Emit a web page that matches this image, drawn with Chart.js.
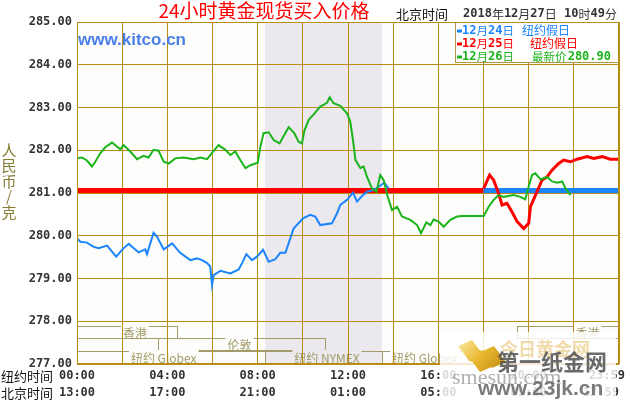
<!DOCTYPE html>
<html>
<head>
<meta charset="utf-8">
<script src="https://cdn.jsdelivr.net/npm/chart.js@4.4.1/dist/chart.umd.min.js"></script>
<style>
  html, body { margin: 0; padding: 0; background: #ffffff; }
  #wrap { width: 630px; height: 400px; }
</style>
</head>
<body>
<div id="wrap"><canvas id="gold" width="630" height="400"></canvas></div>
<script>
// NY time in hours (0-24), price in 人民币/克
const blueTimes = [0,0.15,0.44,0.74,0.96,1.33,1.55,1.74,1.99,2.29,2.73,3.02,3.10,3.39,3.54,3.84,4.21,4.57,5.02,5.31,5.54,5.76,5.90,5.98,6.05,6.35,6.79,7.16,7.31,7.50,7.75,7.97,8.24,8.49,8.78,9.00,9.23,9.59,10.01,10.33,10.55,10.77,11.29,11.51,11.66,11.96,12.22,12.40,12.62,12.84,13.14,13.61,13.80];
const blueValues = [279.94,279.86,279.84,279.74,279.71,279.77,279.63,279.51,279.67,279.81,279.61,279.68,279.57,280.07,279.98,279.68,279.82,279.60,279.43,279.47,279.43,279.36,279.28,278.85,279.08,279.18,279.12,279.21,279.36,279.57,279.43,279.51,279.67,279.39,279.45,279.60,279.60,280.17,280.41,280.49,280.45,280.25,280.29,280.52,280.72,280.84,281.01,280.80,280.93,281.03,281.07,281.24,281.11];

const greenTimes = [0,0.22,0.44,0.66,0.81,1.03,1.25,1.55,1.92,2.06,2.36,2.66,2.95,3.17,3.39,3.61,3.84,4.06,4.35,4.72,5.16,5.46,5.76,5.98,6.27,6.57,6.79,7.01,7.23,7.46,7.68,8.00,8.12,8.26,8.49,8.71,8.97,9.37,9.62,9.81,9.96,10.07,10.26,10.48,10.77,11.07,11.19,11.36,11.66,11.96,12.10,12.22,12.33,12.55,12.69,12.84,13.06,13.26,13.43,13.58,13.76,13.95,14.17,14.39,14.76,15.06,15.23,15.47,15.65,15.79,16.01,16.24,16.53,16.83,17.05,18.01,18.23,18.45,18.67,18.89,19.34,19.63,19.85,20.00,20.15,20.30,20.52,20.82,21.04,21.26,21.48,21.63,21.85];
const greenValues = [281.81,281.83,281.76,281.62,281.73,281.93,282.07,282.18,282.02,282.12,281.97,281.79,281.87,281.83,282.01,281.99,281.73,281.69,281.81,281.83,281.79,281.83,281.79,281.94,282.12,282.01,281.89,281.97,281.77,281.58,281.65,281.71,282.08,282.40,282.42,282.24,282.16,282.54,282.40,282.20,282.16,282.46,282.71,282.84,283.02,283.11,283.24,283.10,283.04,282.86,282.67,282.24,281.77,281.58,281.62,281.38,281.11,281.03,281.42,281.30,280.91,280.60,280.68,280.45,280.37,280.25,280.06,280.31,280.25,280.38,280.33,280.21,280.37,280.45,280.46,280.46,280.68,280.84,280.95,280.91,280.95,280.91,280.85,281.15,281.42,281.46,281.32,281.37,281.27,281.24,281.27,281.11,280.95];

const redTimes = [18.01,18.27,18.45,18.67,18.82,19.04,19.26,19.49,19.78,20.00,20.08,20.37,20.59,20.82,21.04,21.33,21.55,21.85,22.14,22.59,22.88,23.25,23.62,23.99];
const redValues = [281.11,281.42,281.30,280.99,280.72,280.76,280.56,280.33,280.17,280.29,280.68,281.03,281.30,281.38,281.54,281.69,281.77,281.73,281.79,281.85,281.81,281.85,281.79,281.79];

// 纽约假日: flat lines at the holiday price
const holidayPrice = 281.06;
const redHolidayTimes = [0, 18];
const blueHolidayTimes = [18, 24];

const nyTickHours = [0, 4, 8, 12, 16, 20, 24];
const nyTickLabels = ['00:00', '04:00', '08:00', '12:00', '16:00', '20:00', '23:59'];
const bjTickLabels = ['13:00', '17:00', '21:00', '01:00', '05:00', '09:00', '12:59'];

// trading sessions, NY hours
const sessionNames = ['香港', '香港', '伦敦', '纽约 Globex', '纽约 NYMEX', '纽约 Globex'];
const sessionRows = [0, 0, 1, 2, 2, 2];
const sessionStart = [-3, 19.5, 3.6, -6, 8.33, 13.5];
const sessionEnd = [4.44, 27, 10.96, 8.33, 13.5, 17.25];
const sessionLabelAt = [2.57, 22.6, 7.2, 3.84, 11.07, 15.4];
const nymexOpen = 8.33, nymexClose = 13.5;

const GRID = '#bb8c14';
const PLOT_BG = '#fdfefb';
const SHADE = '#ebe8ee';
const BOX = '#a39c6a';
const BLUE = '#1a85ff', RED = '#ff0000', GREEN = '#1cb41c';

const toXY = (ts, vs) => ts.map((t, i) => ({ x: t, y: vs[i] }));

const MONO = 'bold 12px "DejaVu Sans Mono", monospace';

// draws ascii in bold mono, CJK in regular; returns end x
function mixedText(ctx, str, x, y, color, align, cjkSize) {
  const cjk = (cjkSize || 13) + 'px "Noto Sans CJK SC", sans-serif';
  const runs = [];
  for (const ch of str) {
    const isAscii = ch.charCodeAt(0) < 128;
    const last = runs[runs.length - 1];
    if (last && last.a === isAscii) last.s += ch; else runs.push({ a: isAscii, s: ch });
  }
  let w = 0;
  runs.forEach(r => { ctx.font = r.a ? MONO : cjk; r.w = ctx.measureText(r.s).width; w += r.w; });
  let cx = align === 'right' ? x - w : align === 'center' ? x - w / 2 : x;
  ctx.fillStyle = color;
  ctx.textBaseline = 'middle';
  ctx.textAlign = 'left';
  runs.forEach(r => { ctx.font = r.a ? MONO : cjk; ctx.fillText(r.s, cx, y); cx += r.w; });
  return cx;
}

const decor = {
  id: 'decor',
  beforeDraw(chart) {
    const { ctx, chartArea: a, scales: { x, y } } = chart;
    ctx.save();
    ctx.fillStyle = '#ffffff';
    ctx.fillRect(0, 0, chart.width, chart.height);
    ctx.fillStyle = PLOT_BG;
    ctx.fillRect(a.left, a.top, a.right - a.left, a.bottom - a.top);
    const s0 = x.getPixelForValue(nymexOpen), s1 = x.getPixelForValue(nymexClose);
    ctx.fillStyle = SHADE;
    ctx.fillRect(s0, a.top, s1 - s0, a.bottom - a.top);

    // session boxes
    ctx.beginPath();
    ctx.rect(a.left, a.top, a.right - a.left, a.bottom - a.top);
    ctx.clip();
    const rowTops = [277.89, 277.6, 277.3].map(v => Math.round(y.getPixelForValue(v)) + 0.5);
    const rowH = rowTops[1] - rowTops[0];
    sessionNames.forEach((name, i) => {
      const top = rowTops[sessionRows[i]];
      const l = Math.round(x.getPixelForValue(sessionStart[i])) + 0.5;
      const r = Math.round(x.getPixelForValue(sessionEnd[i])) + 0.5;
      ctx.strokeStyle = BOX;
      ctx.lineWidth = 1;
      ctx.strokeRect(l, top, r - l, rowH);
    });
    sessionNames.forEach((name, i) => {
      const top = rowTops[sessionRows[i]];
      const lx = x.getPixelForValue(sessionLabelAt[i]);
      ctx.font = '12px "Noto Sans CJK SC", sans-serif';
      const w = ctx.measureText(name).width;
      const inShade = sessionLabelAt[i] > nymexOpen && sessionLabelAt[i] < nymexClose;
      ctx.fillStyle = inShade ? SHADE : PLOT_BG;
      ctx.fillRect(lx - w / 2 - 2, top - 1.5, w + 4, rowH - 1);
      ctx.fillStyle = BOX;
      ctx.textAlign = 'center';
      ctx.textBaseline = 'middle';
      ctx.fillText(name, lx, top + rowH / 2 + 0.5);
    });
    ctx.restore();
  },
  afterDatasetsDraw(chart) {
    const { ctx, chartArea: a } = chart;
    ctx.save();
    // legend box
    const lx = 455.5, ly = a.top, lw = a.right - lx, lh = 40;
    ctx.fillStyle = '#ffffff';
    ctx.fillRect(lx, ly, lw, lh);
    ctx.strokeStyle = '#b39440';
    ctx.lineWidth = 1;
    ctx.strokeRect(lx, ly + 0.5, lw, lh);
    const rows = [
      ['12月24日', '纽约假日', BLUE, 522],
      ['12月25日', '纽约假日', RED, 530],
      ['12月26日', '最新价280.90', GREEN, 532]
    ];
    rows.forEach((r, i) => {
      const yy = ly + 8.5 + i * 13;
      ctx.fillStyle = r[2];
      ctx.fillRect(457, yy - 1, 5, 3);
      mixedText(ctx, r[0], 462, yy, r[2], 'left', 11.5);
      if (i === 2) {
        mixedText(ctx, '最新价', r[3], yy, r[2], 'left', 11.5);
        mixedText(ctx, '280.90', 611, yy, r[2], 'right', 11.5);
      } else {
        mixedText(ctx, r[1], r[3], yy, r[2], 'left', 12);
      }
    });
    ctx.restore();
  },
  afterDraw(chart) {
    const { ctx, chartArea: a, scales: { x } } = chart;
    ctx.save();
    // frame
    ctx.strokeStyle = GRID;
    ctx.lineWidth = 1;
    ctx.strokeRect(a.left + 0.5, a.top + 0.5, a.right - a.left - 1, a.bottom - a.top);
    ctx.lineWidth = 2;
    ctx.beginPath();
    ctx.moveTo(a.left, a.bottom);
    ctx.lineTo(a.right, a.bottom);
    ctx.stroke();

    // titles
    ctx.font = '19px "Noto Sans CJK SC", sans-serif';
    ctx.fillStyle = RED;
    ctx.textAlign = 'center';
    ctx.textBaseline = 'middle';
    ctx.fillText('24小时黄金现货买入价格', 264, 11);
    mixedText(ctx, '北京时间', 396, 14, '#111111');
    mixedText(ctx, '2018年12月27日 10时49分', 463, 14, '#333333', 'left', 12);

    ctx.font = 'bold 17px "Liberation Sans", Arial, sans-serif';
    ctx.fillStyle = '#4a7ee8';
    ctx.textAlign = 'left';
    ctx.fillText('www.kitco.cn', 78, 40);

    // y axis title
    ctx.font = '15px "Noto Sans CJK SC", sans-serif';
    ctx.fillStyle = '#857d35';
    ctx.textAlign = 'center';
    ['人', '民', '币', '/', '克'].forEach((c, i) => ctx.fillText(c, 9, 150 + i * 15.5));

    // time axis labels
    mixedText(ctx, '纽约时间', 1, 376, '#111111');
    mixedText(ctx, '北京时间', 1, 393, '#111111');
    nyTickHours.forEach((h, i) => {
      const px = x.getPixelForValue(h);
      const last = i === nyTickHours.length - 1;
      mixedText(ctx, nyTickLabels[i], last ? px + 6 : px, 376, '#333333', last ? 'right' : 'center');
      mixedText(ctx, bjTickLabels[i], px, 393, '#333333', last ? 'right' : 'center');
    });

    // watermark
    ctx.fillStyle = 'rgba(255,255,255,0.82)';
    ctx.fillRect(440, 332, 176, 68);
    const g = ctx.createLinearGradient(455, 340, 500, 378);
    g.addColorStop(0, '#fff1b0');
    g.addColorStop(0.5, '#e8b830');
    g.addColorStop(1, '#c08a10');
    ctx.fillStyle = g;
    [[458, 346], [468, 356], [480, 352]].forEach(([bx, by]) => {
      ctx.beginPath();
      ctx.moveTo(bx, by);
      ctx.lineTo(bx + 14, by - 6);
      ctx.lineTo(bx + 26, by + 10);
      ctx.lineTo(bx + 12, by + 16);
      ctx.closePath();
      ctx.fill();
    });
    ctx.textAlign = 'left';
    ctx.font = 'bold 18px "Noto Sans CJK SC", sans-serif';
    ctx.fillStyle = 'rgba(238,210,150,0.8)';
    ctx.fillText('今日黄金网', 500, 349);
    ctx.font = 'bold 22px "Noto Sans CJK SC", sans-serif';
    ctx.fillStyle = 'rgba(80,80,80,0.85)';
    ctx.fillText('第一纸金网', 497, 362);
    ctx.font = '22px "Liberation Serif", serif';
    ctx.fillStyle = 'rgba(150,150,150,0.75)';
    ctx.fillText('smesun.com', 452, 378);
    ctx.font = 'bold 21px "Liberation Sans", sans-serif';
    ctx.fillStyle = 'rgba(100,100,100,0.85)';
    ctx.fillText('www.23jk.cn', 478, 389);
    ctx.restore();
  }
};

new Chart(document.getElementById('gold'), {
  type: 'scatter',
  data: {
    datasets: [
      { data: toXY(greenTimes, greenValues), borderColor: GREEN, borderWidth: 2, order: 0 },
      { data: toXY(redTimes, redValues), borderColor: RED, borderWidth: 3, order: 1 },
      { data: toXY(blueTimes, blueValues), borderColor: BLUE, borderWidth: 2, order: 2 },
      { data: toXY(blueHolidayTimes, [holidayPrice, holidayPrice]), borderColor: BLUE, borderWidth: 5, order: 3 },
      { data: toXY(redHolidayTimes, [holidayPrice, holidayPrice]), borderColor: RED, borderWidth: 5, order: 4 }
    ].map(d => Object.assign(d, { showLine: true, pointRadius: 0, tension: 0, fill: false }))
  },
  options: {
    responsive: false,
    animation: false,
    layout: { padding: { top: 22, right: 11, left: 0, bottom: 0 } },
    scales: {
      x: {
        type: 'linear', min: 0, max: 24,
        ticks: { stepSize: 2, display: false },
        grid: { color: GRID, drawTicks: false },
        border: { display: false },
        afterFit: (s) => { s.height = 36; }
      },
      y: {
        min: 277, max: 285,
        ticks: {
          stepSize: 1, padding: 5, color: '#333333',
          font: { family: '"DejaVu Sans Mono", monospace', size: 12, weight: 'bold' },
          callback: (v) => v.toFixed(2)
        },
        grid: { color: GRID, drawTicks: false },
        border: { display: false },
        afterFit: (s) => { s.width = 77; }
      }
    },
    plugins: { legend: { display: false }, tooltip: { enabled: false } }
  },
  plugins: [decor]
});
</script>
</body>
</html>
